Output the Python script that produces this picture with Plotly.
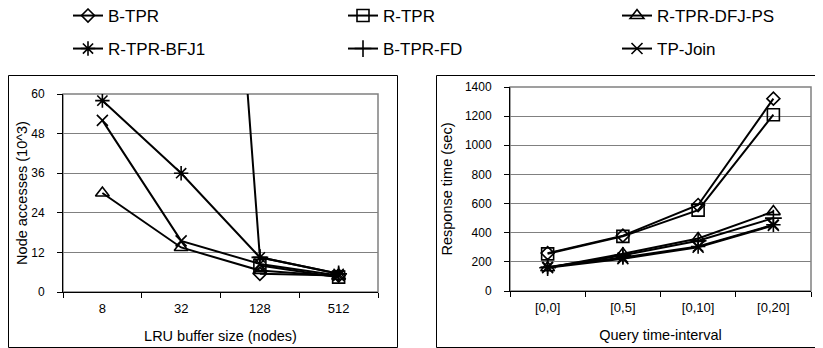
import plotly.graph_objects as go

# ---- data ----
series_names = ["B-TPR", "R-TPR", "R-TPR-DFJ-PS", "R-TPR-BFJ1", "B-TPR-FD", "TP-Join"]
series_symbols = ["diamond-open", "square-open", "triangle-up-open", "asterisk-open", "cross-thin-open", "x-thin-open"]
series_sizes = [10, 12, 12, 12, 12, 11]

buffer_sizes = ["8", "32", "128", "512"]
left_b_tpr = [None, None, 5.5, 5.0]
left_r_tpr = [None, None, 8.0, 4.5]
left_dfj_ps = [30, 13.5, 6.5, 4.8]
left_bfj1 = [58, 36, 10.5, 5.5]
left_b_tpr_fd = [1300, 330, 10.5, 5.5]
left_tp_join = [52, 15.5, 8.5, 5.0]

intervals = ["[0,0]", "[0,5]", "[0,10]", "[0,20]"]
right_b_tpr = [260, 380, 590, 1320]
right_r_tpr = [255, 375, 555, 1210]
right_dfj_ps = [160, 255, 360, 545]
right_bfj1 = [165, 230, 305, 455]
right_b_tpr_fd = [160, 245, 345, 500]
right_tp_join = [160, 222, 300, 450]

left_y_ticks = [0, 12, 24, 36, 48, 60]
right_y_ticks = [0, 200, 400, 600, 800, 1000, 1200, 1400]

left_data = [left_b_tpr, left_r_tpr, left_dfj_ps, left_bfj1, left_b_tpr_fd, left_tp_join]
right_data = [right_b_tpr, right_r_tpr, right_dfj_ps, right_bfj1, right_b_tpr_fd, right_tp_join]

# page has an 8px body margin, so the figure is offset by OFF px
OFF = 8
W, H = 823 - OFF, 348 - OFF
FONT = "Liberation Sans, Arial, sans-serif"

def px(x):
    return (x - OFF) / W

def py(y):
    return 1 - (y - OFF) / H

legend_ids = ["legend", "legend2", "legend3", "legend4", "legend5", "legend6"]
# legend item anchor positions (page px): columns / rows
legend_cols = [68, 343, 617]
legend_rows = [-2, 31]

fig = go.Figure()

for i, name in enumerate(series_names):
    mk = dict(symbol=series_symbols[i], size=series_sizes[i], color="black",
              line=dict(color="black", width=1.6))
    fig.add_trace(go.Scatter(
        x=buffer_sizes, y=left_data[i], name=name, mode="lines+markers",
        line=dict(color="black", width=2), marker=mk,
        xaxis="x", yaxis="y", connectgaps=False,
        legend=legend_ids[i], showlegend=True))
    fig.add_trace(go.Scatter(
        x=intervals, y=right_data[i], name=name, mode="lines+markers",
        line=dict(color="black", width=2), marker=mk,
        xaxis="x2", yaxis="y2", showlegend=False))

axis_common = dict(showline=True, linecolor="black", linewidth=1,
                   ticks="outside", tickcolor="black", ticklen=5,
                   zeroline=False, automargin=False)
ytick_font = dict(family=FONT, size=12, color="black")
xtick_font = dict(family=FONT, size=13, color="black")
title_font = dict(family=FONT, size=14.5, color="black")

legends = {}
for i, lid in enumerate(legend_ids):
    legends[lid] = dict(orientation="h", x=px(legend_cols[i % 3]), y=py(legend_rows[i // 3]),
                        xanchor="left", yanchor="top",
                        font=dict(family=FONT, size=17, color="black"),
                        bgcolor="rgba(0,0,0,0)", borderwidth=0)

fig.update_layout(
    width=W, height=H,
    margin=dict(l=0, r=0, t=0, b=0, autoexpand=False),
    paper_bgcolor="white", plot_bgcolor="white",
    font=dict(family=FONT, color="black"),
    xaxis=dict(domain=[px(63), px(378)], anchor="y", type="category",
               range=[-0.5, len(buffer_sizes) - 0.5],
               tickson="boundaries", showgrid=False, tickfont=xtick_font,
               ticklabelstandoff=4,
               title=dict(text="LRU buffer size (nodes)", standoff=16, font=title_font),
               **axis_common),
    yaxis=dict(domain=[py(292), py(94)], anchor="x", range=[0, 60],
               tickvals=left_y_ticks, showgrid=True, gridcolor="#808080", gridwidth=1,
               tickfont=ytick_font, ticklabelstandoff=10,
               title=dict(text="Node accesses (10^3)", standoff=0, font=title_font),
               **axis_common),
    xaxis2=dict(domain=[px(510), px(811)], anchor="y2", type="category",
                range=[-0.5, len(intervals) - 0.5],
                tickson="boundaries", showgrid=False, tickfont=xtick_font,
                ticklabelstandoff=4,
                title=dict(text="Query time-interval", standoff=16, font=title_font),
                **axis_common),
    yaxis2=dict(domain=[py(291), py(87)], anchor="x2", range=[0, 1400],
                tickvals=right_y_ticks, showgrid=True, gridcolor="#808080", gridwidth=1,
                tickfont=ytick_font, ticklabelstandoff=10,
                title=dict(text="Response time (sec)", standoff=8, font=title_font),
                **axis_common),
    shapes=[
        dict(type="rect", xref="paper", yref="paper", x0=px(8.5), x1=px(397.5), y0=py(347.5), y1=py(75.5),
             line=dict(color="black", width=1), layer="below"),
        dict(type="rect", xref="paper", yref="paper", x0=px(436.5), x1=px(818.5), y0=py(347.5), y1=py(75.5),
             line=dict(color="black", width=1), layer="below"),
        dict(type="rect", xref="x domain", yref="y domain", x0=0, x1=1, y0=0, y1=1,
             line=dict(color="#808080", width=1.5), layer="below"),
        dict(type="rect", xref="x2 domain", yref="y2 domain", x0=0, x1=1, y0=0, y1=1,
             line=dict(color="#808080", width=1.5), layer="below"),
    ],
    **legends,
)

fig.write_html("out.html")
